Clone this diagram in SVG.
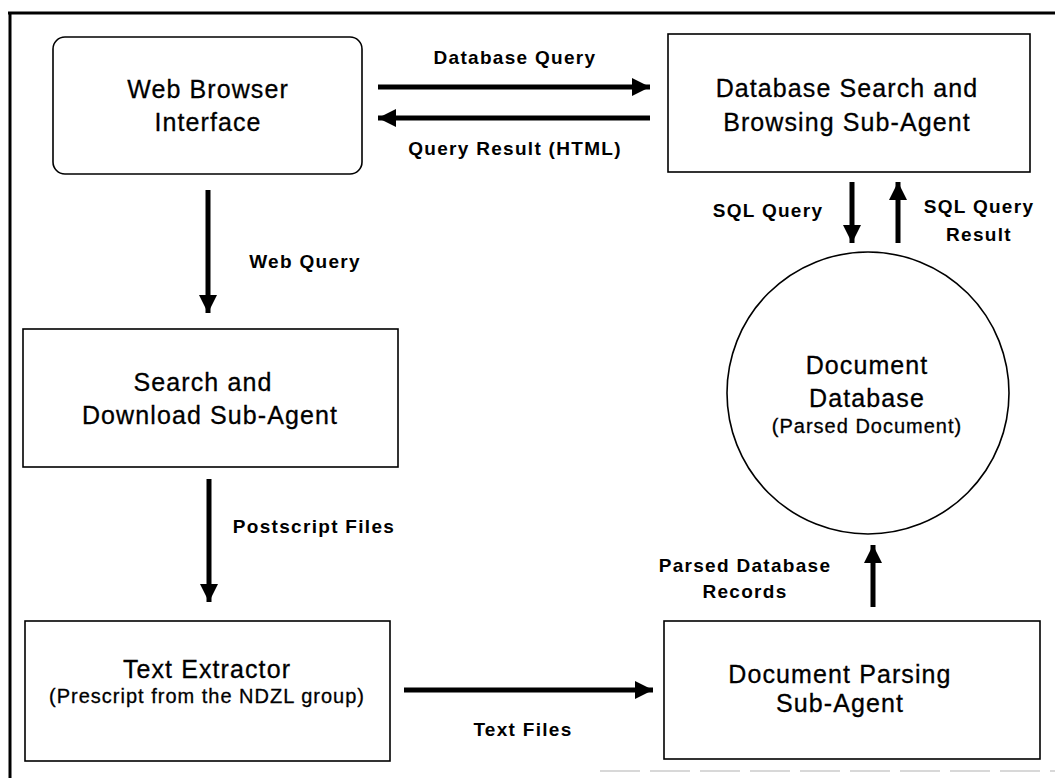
<svg xmlns="http://www.w3.org/2000/svg" width="1055" height="778" viewBox="0 0 1055 778">
<style>
.box{fill:#fff;stroke:#000;stroke-width:1.6}
.t{font-family:"Liberation Sans",Arial,sans-serif;font-size:25px;letter-spacing:1.1px;text-anchor:middle;fill:#000;stroke:#000;stroke-width:0.3}
.ts{font-family:"Liberation Sans",Arial,sans-serif;font-size:20px;letter-spacing:1px;text-anchor:middle;fill:#000;stroke:#000;stroke-width:0.3}
.l{font-family:"Liberation Sans",Arial,sans-serif;font-size:19px;font-weight:bold;letter-spacing:1.3px;text-anchor:middle;fill:#000}
.c{stroke:#000;stroke-width:5;fill:none}
</style>
<defs>
<marker id="ah" markerUnits="userSpaceOnUse" markerWidth="20" markerHeight="18" refX="18" refY="9" orient="auto">
<path d="M0,0 L18,9 L0,18 Z" fill="#000"/>
</marker>
</defs>
<rect width="1055" height="778" fill="#fff"/>
<g id="frame">
<line x1="8" y1="13" x2="1055" y2="13" stroke="#000" stroke-width="3"/>
<line x1="10" y1="12" x2="10" y2="778" stroke="#000" stroke-width="3"/>
<line x1="600" y1="771" x2="1055" y2="771" stroke="#ccc" stroke-width="1.5" stroke-dasharray="40,10"/>
</g>
<g id="web-browser">
<rect class="box" x="53" y="37" width="309" height="137" rx="12"/>
<text class="t" x="208" y="98">Web Browser</text>
<text class="t" x="208" y="131">Interface</text>
</g>
<g id="db-search">
<rect class="box" x="668" y="34" width="362" height="138"/>
<text class="t" x="847" y="97">Database Search and</text>
<text class="t" x="847" y="131">Browsing Sub-Agent</text>
</g>
<g id="search-download">
<rect class="box" x="23" y="329" width="375" height="138"/>
<text class="t" x="203" y="391">Search and</text>
<text class="t" x="210" y="424">Download Sub-Agent</text>
</g>
<g id="text-extractor">
<rect class="box" x="25" y="621" width="365" height="140"/>
<text class="t" x="207" y="678">Text Extractor</text>
<text class="ts" x="207" y="703">(Prescript from the NDZL group)</text>
</g>
<g id="doc-parsing">
<rect class="box" x="664" y="621" width="376" height="138"/>
<text class="t" x="840" y="683">Document Parsing</text>
<text class="t" x="840" y="712">Sub-Agent</text>
</g>
<g id="doc-database">
<circle class="box" cx="868" cy="393" r="141"/>
<text class="t" x="867" y="374">Document</text>
<text class="t" x="867" y="407">Database</text>
<text class="ts" x="867" y="433">(Parsed Document)</text>
</g>
<g id="connectors">
<line class="c" x1="378" y1="87" x2="650" y2="87" marker-end="url(#ah)"/>
<line class="c" x1="650" y1="118" x2="378" y2="118" marker-end="url(#ah)"/>
<line class="c" x1="208" y1="190" x2="208" y2="313" marker-end="url(#ah)"/>
<line class="c" x1="209" y1="479" x2="209" y2="602" marker-end="url(#ah)"/>
<line class="c" x1="404" y1="690" x2="653" y2="690" marker-end="url(#ah)"/>
<line class="c" x1="852" y1="182" x2="852" y2="243" marker-end="url(#ah)"/>
<line class="c" x1="898" y1="243" x2="898" y2="182" marker-end="url(#ah)"/>
<line class="c" x1="873" y1="607" x2="873" y2="545" marker-end="url(#ah)"/>
</g>
<g id="labels">
<text class="l" x="515" y="64">Database Query</text>
<text class="l" x="515" y="155">Query Result (HTML)</text>
<text class="l" x="305" y="268">Web Query</text>
<text class="l" x="314" y="533">Postscript Files</text>
<text class="l" x="523" y="736">Text Files</text>
<text class="l" x="768" y="217">SQL Query</text>
<text class="l" x="979" y="213">SQL Query</text>
<text class="l" x="979" y="241">Result</text>
<text class="l" x="745" y="572">Parsed Database</text>
<text class="l" x="745" y="598">Records</text>
</g>
</svg>
